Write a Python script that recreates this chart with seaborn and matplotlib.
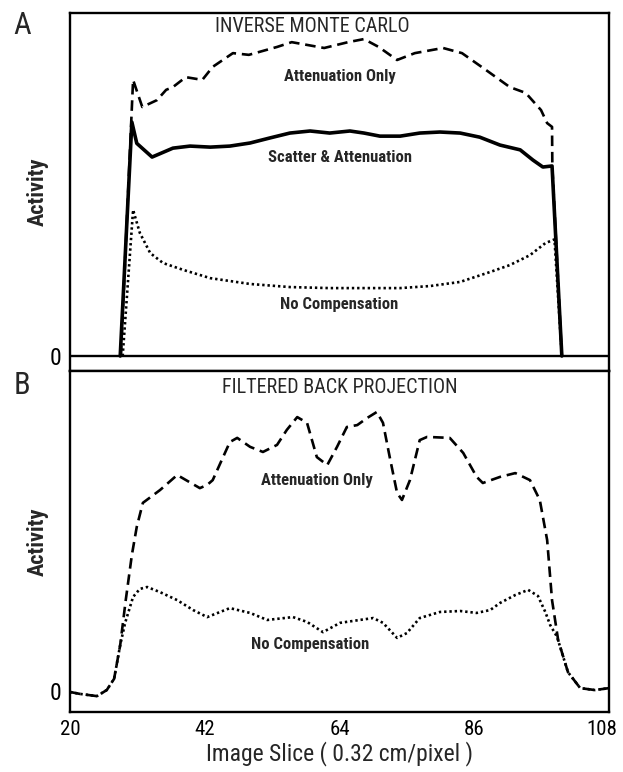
import matplotlib
matplotlib.use("Agg")
import matplotlib.pyplot as plt
import matplotlib.transforms as mtransforms
import seaborn as sns
import pandas as pd
from matplotlib import font_manager

# ---------------- data ----------------
# Panel A : Inverse Monte Carlo
a_att_x = [28.3, 30.3, 31.8, 34.2, 35.7, 36.8, 38.9, 41.6, 43.3, 46.6, 49.2, 53.8, 56.2, 61.5, 65.4,
           68.0, 70.4, 73.4, 76.3, 80.9, 84.0, 87.9, 91.8, 94.4, 96.9, 97.9, 98.7, 98.75, 100.3]
a_att_y = [0, 80.5, 72.6, 74.6, 77.6, 78.4, 81.3, 80.5, 84.3, 88.3, 87.8, 90.1, 91.5, 89.8, 91.5,
           92.4, 90.1, 86.3, 88.3, 89.8, 88.3, 83.4, 78.4, 76.7, 71.7, 67.9, 66.8, 55.1, 0]

a_sca_x = [28.2, 30.1, 30.9, 33.4, 36.8, 39.6, 42.9, 46.1, 49.4, 52.7, 55.9, 59.2, 62.4, 65.7,
           68.0, 70.6, 73.9, 77.1, 80.4, 83.7, 86.9, 90.2, 93.5, 95.6, 97.2, 98.7, 100.3]
a_sca_y = [0, 68.2, 62.0, 58.0, 60.6, 61.2, 60.9, 61.2, 62.1, 63.6, 65.0, 65.6, 65.0, 65.6,
           65.0, 64.1, 64.1, 65.0, 65.3, 65.0, 63.8, 61.5, 60.1, 57.1, 55.1, 55.4, 0]

a_nc_x = [28.6, 30.3, 31.4, 33.1, 35.2, 38.5, 42.9, 49.4, 55.9, 62.4, 67.2, 73.9, 78.8, 83.7,
          88.6, 91.8, 95.1, 97.6, 99.1, 100.3]
a_nc_y = [0, 42.6, 35.9, 30.0, 27.1, 25.1, 22.7, 21.0, 20.1, 19.8, 19.8, 19.8, 20.4, 21.6,
          24.5, 26.5, 29.4, 32.9, 34.0, 0]

# Panel B : Filtered Back Projection
b_att_x = [20.0, 21.6, 24.4, 26.0, 27.2, 28.2, 29.1, 30.1, 30.9, 31.9, 34.7, 37.5, 41.2, 42.4,
           43.3, 46.1, 47.3, 49.4, 51.5, 53.8, 55.4, 57.1, 58.7, 60.3, 62.0, 63.6, 65.2, 66.9,
           68.5, 70.1, 71.1, 72.2, 73.4, 74.2, 75.5, 77.1, 78.3, 82.0, 84.2, 86.4, 87.4, 90.2,
           92.7, 95.1, 96.7, 97.9, 98.7, 99.7, 101.3, 103.3, 105.7, 108.0]
b_att_y = [-0.3, -0.9, -1.6, 0.3, 3.8, 14.4, 28.4, 42.5, 51.3, 58.8, 62.8, 67.5, 63.4, 64.4,
           65.9, 77.8, 79.1, 76.3, 74.7, 76.9, 81.6, 85.6, 83.8, 73.1, 70.6, 76.3, 82.5, 83.1,
           85.3, 87.2, 83.8, 73.1, 61.9, 59.7, 65.9, 78.4, 79.4, 79.1, 74.4, 66.9, 65.0, 66.9,
           68.1, 65.9, 59.7, 47.2, 28.4, 15.9, 5.9, 0.9, 0.3, 0.9]

b_nc_x = [20.0, 21.6, 24.4, 26.0, 27.2, 28.2, 29.0, 30.3, 31.4, 32.6, 34.7, 37.5, 40.1, 42.4,
          46.1, 49.4, 52.2, 56.4, 58.7, 61.3, 64.1, 67.3, 69.5, 71.1, 73.4, 75.0, 77.1, 80.4,
          83.7, 86.4, 88.6, 90.2, 92.7, 94.8, 96.4, 97.6, 98.4, 99.5, 101.3, 103.3, 105.7, 108.0]
b_nc_y = [-0.3, -0.9, -1.6, 0.3, 3.8, 14.4, 21.3, 29.4, 31.9, 32.5, 30.9, 28.4, 25.3, 23.1,
          25.9, 24.4, 22.2, 23.1, 21.6, 18.4, 21.3, 22.2, 22.8, 21.3, 16.6, 18.1, 22.8, 24.7,
          25.0, 24.4, 25.3, 27.5, 30.0, 31.6, 29.7, 24.7, 20.6, 17.0, 5.9, 0.9, 0.3, 0.9]

x_ticks = [20, 42, 64, 86, 108]
x_tick_labels = ["20", "42", "64", "86", "108"]
title_a = "INVERSE MONTE CARLO"
title_b = "FILTERED BACK PROJECTION"
x_label = "Image Slice ( 0.32 cm/pixel )"
y_label = "Activity"

# ---------------- style ----------------
sns.set_theme(style="white")
names = {f.name for f in font_manager.fontManager.ttflist}
cond_dejavu = any(f.name == "DejaVu Sans" and str(f.stretch).lower() in ("condensed", "semi-condensed")
                  for f in font_manager.fontManager.ttflist)
stretch = "normal"
if "Roboto Condensed" in names:
    fam = "Roboto Condensed"
elif "Liberation Sans Narrow" in names:
    fam = "Liberation Sans Narrow"
elif cond_dejavu:
    fam = "DejaVu Sans"
    stretch = "condensed"
else:
    fam = "DejaVu Sans"
plt.rcParams["font.family"] = [fam, "DejaVu Sans"]
plt.rcParams["font.stretch"] = stretch

fig = plt.figure(figsize=(6.23, 7.72), dpi=100)
W, H = 623, 772
axA = fig.add_axes([70 / W, 1 - 371 / H, 539 / W, 358 / H])
axB = fig.add_axes([70 / W, 1 - 712 / H, 539 / W, 341 / H])

dash = (0, (4, 2.2))
dot = (0, (0.9, 1.1))


def draw(ax, x, y, ls, lw):
    df = pd.DataFrame({"x": x, "y": y})
    sns.lineplot(data=df, x="x", y="y", ax=ax, color="black", linestyle=ls, linewidth=lw,
                 sort=False, estimator=None)


draw(axA, a_att_x, a_att_y, dash, 1.9)
draw(axA, a_sca_x, a_sca_y, "-", 2.6)
draw(axA, a_nc_x, a_nc_y, dot, 1.9)
axA.axhline(0, color="black", lw=1.7)

draw(axB, b_att_x, b_att_y, dash, 1.9)
draw(axB, b_nc_x, b_nc_y, dot, 1.9)

for ax in (axA, axB):
    ax.set_xlim(20, 108)
    ax.set_xticks(x_ticks)
    ax.set_yticks([0])
    ax.set_yticklabels(["0"], fontsize=17)
    ax.tick_params(axis="y", direction="inout", length=9, width=1.5, pad=2, colors="black")
    for s in ax.spines.values():
        s.set_color("black")
        s.set_linewidth(1.7)
    ax.set_xlabel("")
    ax.set_ylabel(y_label, fontsize=16, fontweight="bold", labelpad=2)
    ax.grid(False)

axA.set_ylim(-4.37, 100)
axB.set_ylim(-6.56, 100)
axA.set_xticklabels([])
axA.tick_params(axis="x", direction="in", length=11, width=1.5)
axB.set_xticklabels(x_tick_labels, fontsize=15)
axB.tick_params(axis="x", direction="in", length=8, width=1.5, pad=6, colors="black")
last = axB.get_xticklabels()[-1]
last.set_transform(last.get_transform() +
                   mtransforms.ScaledTranslation(-5 / 72, 0, fig.dpi_scale_trans))
axB.set_xlabel(x_label, fontsize=17, labelpad=1)
axA.yaxis.set_label_coords(-0.04, 0.5)
axB.yaxis.set_label_coords(-0.04, 0.5)

axA.text(0.45, 0.962, title_a, transform=axA.transAxes, ha="center", va="center",
         fontsize=14.5)
axB.text(0.5, 0.952, title_b, transform=axB.transAxes, ha="center", va="center",
         fontsize=14.5)

lab = dict(ha="center", va="center", fontsize=12, fontweight="bold")
axA.text(64.1, 81.6, "Attenuation Only", **lab)
axA.text(64.0, 58.0, "Scatter & Attenuation", **lab)
axA.text(64.0, 14.9, "No Compensation", **lab)
axB.text(60.3, 65.9, "Attenuation Only", **lab)
axB.text(59.2, 14.4, "No Compensation", **lab)

fig.text(22 / W, 1 - 25 / H, "A", ha="center", va="center", fontsize=22)
fig.text(22 / W, 1 - 385 / H, "B", ha="center", va="center", fontsize=22)

fig.savefig("out.png", dpi=100)
